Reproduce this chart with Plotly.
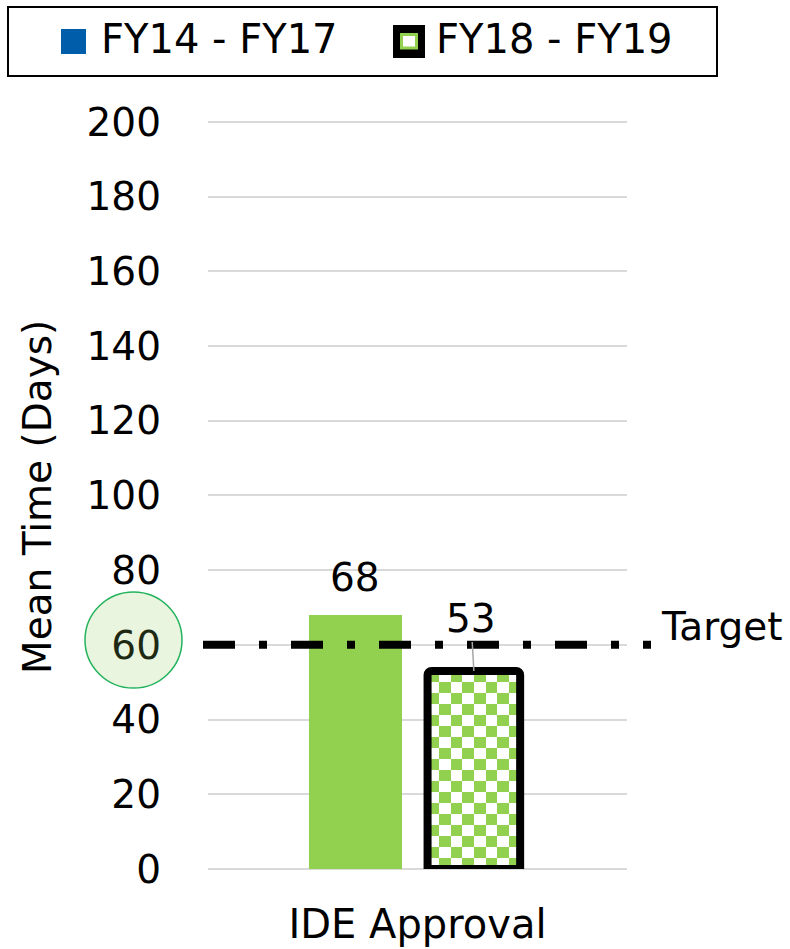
import numpy as np
import plotly.graph_objects as go

# ---- data ----
categories = ["IDE Approval"]
series_names = ["FY14 - FY17", "FY18 - FY19"]
fy14_fy17 = [68]
fy18_fy19 = [53]
target_value = 60
y_ticks = [0, 20, 40, 60, 80, 100, 120, 140, 160, 180, 200]

# ---- style ----
FONT = "DejaVu Sans"
GREEN = "#92D050"
BLUE = "#005DAA"
GRID = "#D9D9D9"
W, H = 790, 949
L, R, T, B = 208, 627, 120, 869          # plot area in pixels
Y_TOP = 200.5                            # a little headroom so the 200 gridline shows


def px(x):
    return (x - L) / (R - L)


def py(y):
    return (B - y) / (B - T)


bar1_offset, bar1_width = -0.259, 0.222
bar2_offset, bar2_width = 0.024, 0.221
x_idx = list(range(len(categories)))

fig = go.Figure()

# checkerboard fill for the FY18-FY19 bar (texture only)
n_cols, n_rows = 8, 18
for xi, val in zip(x_idx, fy18_fy19):
    xe = np.linspace(xi + bar2_offset, xi + bar2_offset + bar2_width, n_cols + 1)
    ye = np.linspace(0, val, n_rows + 1)
    z = (np.add.outer(np.arange(n_rows), np.arange(n_cols)) % 2).astype(float)
    fig.add_trace(go.Heatmap(
        x=xe, y=ye, z=z, zmin=0, zmax=1,
        colorscale=[[0, "white"], [1, GREEN]],
        showscale=False, hoverinfo="skip"))

fig.add_trace(go.Bar(
    x=x_idx, y=fy14_fy17, name=series_names[0],
    offset=bar1_offset, width=bar1_width,
    marker=dict(color=GREEN, line=dict(width=0)),
    showlegend=False))

fig.add_trace(go.Bar(
    x=x_idx, y=fy18_fy19, name=series_names[1],
    offset=bar2_offset, width=bar2_width,
    marker=dict(color="rgba(0,0,0,0)", line=dict(color="black", width=8),
                cornerradius=4),
    showlegend=False))

shapes = []
annotations = []

# target line
shapes.append(dict(type="line", xref="paper", yref="y",
                   x0=px(203), x1=px(651), y0=target_value, y1=target_value,
                   line=dict(color="black", width=8, dash="32px,24px,8px,24px"),
                   layer="above"))
annotations.append(dict(text="Target", xref="paper", yref="y",
                        x=px(659), y=target_value, xanchor="left", yanchor="middle",
                        yshift=18, showarrow=False,
                        font=dict(family=FONT, size=39, color="black")))

# highlight circle behind the target tick
shapes.append(dict(type="circle", xref="paper", yref="paper",
                   x0=px(85), x1=px(182), y0=py(688), y1=py(592),
                   fillcolor="#E9F5DE", line=dict(color="#22B35C", width=1.5),
                   layer="below"))

# value labels
for xi, v in zip(x_idx, fy14_fy17):
    annotations.append(dict(text=str(v), x=xi + bar1_offset + bar1_width / 2, y=v,
                            xref="x", yref="y", yanchor="middle", yshift=37,
                            showarrow=False,
                            font=dict(family=FONT, size=39, color="black")))
for xi, v in zip(x_idx, fy18_fy19):
    annotations.append(dict(text=str(v), x=xi + bar2_offset + bar2_width / 2, y=v,
                            xref="x", yref="y", showarrow=True, arrowhead=0,
                            arrowwidth=1.5, arrowcolor="#A6A6A6", ax=-3, ay=-53,
                            standoff=0,
                            font=dict(family=FONT, size=39, color="black")))

# y-axis title
annotations.append(dict(text="Mean Time (Days)", xref="paper", yref="paper",
                        x=px(37), y=py(497), textangle=-90, showarrow=False,
                        xanchor="center", yanchor="middle",
                        font=dict(family=FONT, size=39, color="black")))

# legend box
shapes.append(dict(type="rect", xref="paper", yref="paper",
                   x0=px(8), x1=px(717), y0=py(76), y1=py(7),
                   line=dict(color="black", width=2), fillcolor="white",
                   layer="below"))
shapes.append(dict(type="rect", xref="paper", yref="paper",
                   x0=px(61), x1=px(86), y0=py(54), y1=py(29),
                   line=dict(width=0), fillcolor=BLUE, layer="below"))
shapes.append(dict(type="rect", xref="paper", yref="paper",
                   x0=px(393), x1=px(425), y0=py(58), y1=py(25),
                   line=dict(width=0), fillcolor="black", layer="below"))
shapes.append(dict(type="rect", xref="paper", yref="paper",
                   x0=px(401.5), x1=px(416.5), y0=py(48), y1=py(34.5),
                   line=dict(color=GREEN, width=3), fillcolor="white",
                   layer="below"))
for name, xl in zip(series_names, [99, 434]):
    annotations.append(dict(text=name, xref="paper", yref="paper",
                            x=px(xl), y=py(39), xanchor="left", yanchor="middle",
                            showarrow=False,
                            font=dict(family=FONT, size=40, color="black")))

tick_text = [
    '<span style="color:#1E2914">%d</span>' % t if t == target_value else str(t)
    for t in y_ticks
]

fig.update_layout(
    width=W, height=H,
    margin=dict(l=L, r=W - R, t=T, b=H - B, pad=0, autoexpand=False),
    paper_bgcolor="white", plot_bgcolor="white",
    barmode="overlay",
    showlegend=False,
    shapes=shapes, annotations=annotations,
    font=dict(family=FONT, color="black"),
    xaxis=dict(range=[-0.5, 0.5], tickvals=x_idx, ticktext=categories,
               showgrid=False, zeroline=False, showline=False, ticks="",
               tickfont=dict(family=FONT, size=40, color="black"),
               ticklabelstandoff=28, fixedrange=True, automargin=False),
    yaxis=dict(range=[0, Y_TOP], tickvals=y_ticks, ticktext=tick_text,
               showgrid=True, gridcolor=GRID, gridwidth=2,
               zeroline=True, zerolinecolor=GRID, zerolinewidth=2,
               showline=False, ticks="",
               tickfont=dict(family=FONT, size=39, color="black"),
               ticklabelstandoff=46, fixedrange=True, automargin=False),
)

fig.write_html("out.html", config={"displayModeBar": False})
